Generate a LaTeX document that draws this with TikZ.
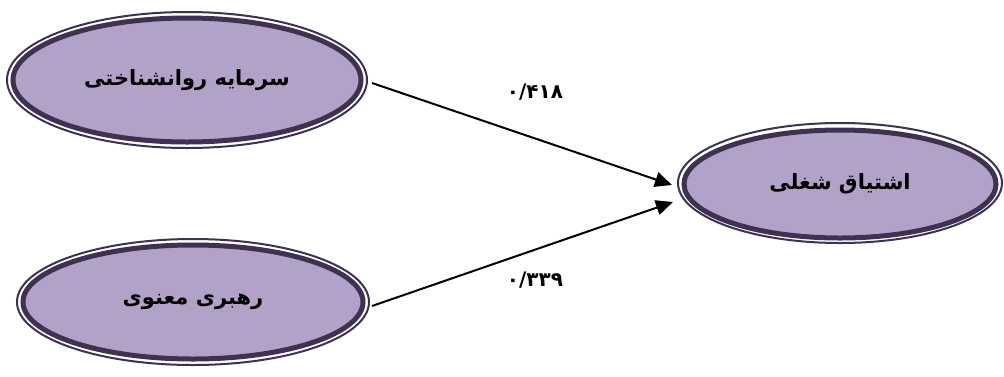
\documentclass[tikz,border=0pt]{standalone}
\usepackage{fontspec}
\usetikzlibrary{shapes.geometric,arrows.meta,calc}
\TeXXeTstate=1
\newfontfamily\arabicfont[Script=Arabic]{DejaVu Sans}
\definecolor{rim}{HTML}{3F3151}
\definecolor{lav}{HTML}{B3A2C7}
\tikzset{
  construct/.style={ellipse, draw=rim, line width=5pt, fill=lav,
    inner sep=0pt, outer sep=0pt,
    font=\arabicfont\bfseries\fontsize{21}{25}\selectfont},
  rimline/.style={draw=rim, line width=2pt},
  link/.style={line width=2pt, -{Triangle[length=17pt,width=15pt]}},
  coef/.style={font=\arabicfont\bfseries\fontsize{20}{24}\selectfont, inner sep=0pt}
}
\begin{document}
\begin{tikzpicture}[x=1pt,y=-1pt]
\useasboundingbox (0,0) rectangle (1004,376);

% thin outer rims around each construct
\draw[rimline] (187,80) ellipse [x radius=180, y radius=68];
\draw[rimline] (193,302) ellipse [x radius=176, y radius=63];
\draw[rimline] (840,183) ellipse [x radius=162, y radius=60];

% constructs
\node[construct, minimum width=348pt, minimum height=124pt] (A) at (187,80)
  {\beginR سرمایه روانشناختی\endR};
\node[construct, minimum width=340pt, minimum height=114pt] (B) at (193,302)
  {\beginR رهبری معنوی\endR};
\node[construct, minimum width=312pt, minimum height=108pt] (C) at (840,184)
  {\beginR اشتیاق شغلی\endR};

% path ends
\coordinate (a1) at ($(A.east)+(11,3)$);
\coordinate (b1) at ($(B.east)+(9,4)$);
\coordinate (c1) at ($(C.west)+(-12,1)$);
\coordinate (c2) at ($(C.west)+(-11,18)$);

\draw[link] (a1) -- (c1);
\draw[link] (b1) -- (c2);

% path coefficients
\node[coef] (k1) at (535,92) {۰/۴۱۸};
\node[coef] (k2) at (535,280) {۰/۳۳۹};
\end{tikzpicture}
\end{document}
